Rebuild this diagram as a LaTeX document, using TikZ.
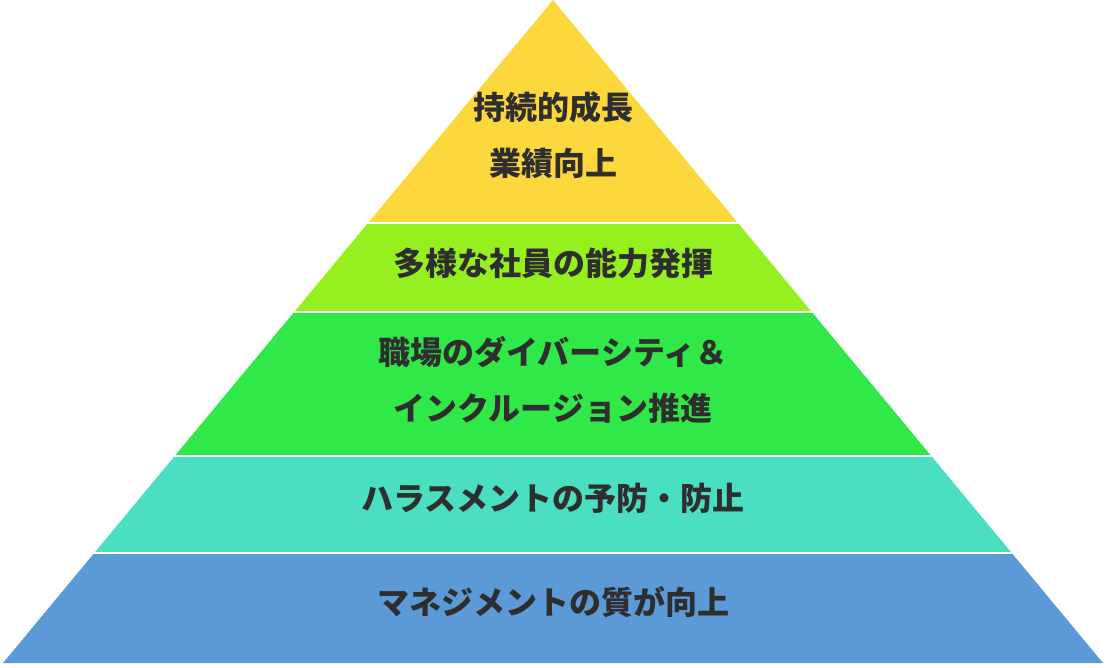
\documentclass[tikz,border=0pt]{standalone}
\usepackage{fontspec}
\newfontfamily\jp{Noto Sans CJK JP}
\definecolor{cyel}{HTML}{FDD83C}
\definecolor{clime}{HTML}{96EF1F}
\definecolor{cgreen}{HTML}{30E848}
\definecolor{cteal}{HTML}{4ADFC1}
\definecolor{cblue}{HTML}{5B9AD6}
\definecolor{ctext}{HTML}{2E2E2E}
\tikzset{lbl/.style={font=\jp\bfseries\fontsize{32}{38}\selectfont, text=ctext, inner sep=0pt, anchor=center}}
\begin{document}
\begin{tikzpicture}[x=1pt,y=-1pt]
\useasboundingbox (0,0) rectangle (1107,667);
\begin{scope}
\clip (553,0) -- (3,663) -- (1103,663) -- cycle;
\fill[cyel] (0,0) rectangle (1107,223);
\fill[clime] (0,223) rectangle (1107,312);
\fill[cgreen] (0,312) rectangle (1107,456);
\fill[cteal] (0,456) rectangle (1107,553);
\fill[cblue] (0,553) rectangle (1107,667);
\draw[white, line width=1.3pt] (0,223) -- (1107,223) (0,312) -- (1107,312) (0,456) -- (1107,456) (0,553) -- (1107,553);
\end{scope}
\node[lbl] (t1) at (553,107) {持続的成長};
\node[lbl] (t2) at (553,163) {業績向上};
\node[lbl] (t3) at (553,263) {多様な社員の能力発揮};
\node[lbl] (t4) at (553,352) {職場のダイバーシティ＆};
\node[lbl] (t5) at (553,408) {インクルージョン推進};
\node[lbl] (t6) at (553,498) {ハラスメントの予防・防止};
\node[lbl] (t7) at (553,602) {マネジメントの質が向上};
\end{tikzpicture}
\end{document}
